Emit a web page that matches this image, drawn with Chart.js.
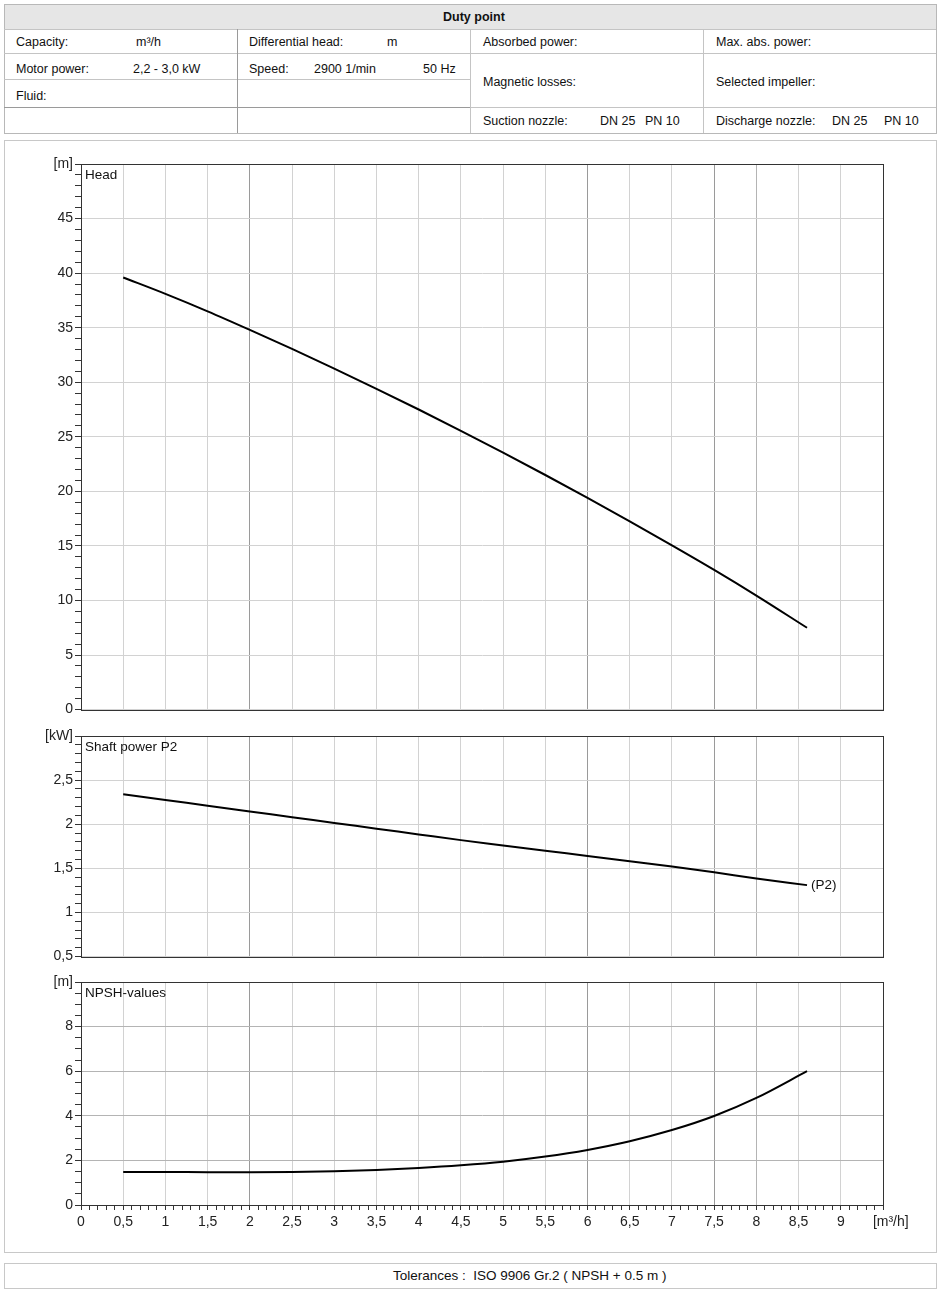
<!DOCTYPE html>
<html><head><meta charset="utf-8">
<script src="https://cdn.jsdelivr.net/npm/chart.js@4/dist/chart.umd.min.js"></script>
<style>
body{margin:0;background:#fff;font-family:"Liberation Sans",Arial,sans-serif;font-size:12.5px;color:#111}
#page{position:relative;width:940px;height:1292px;overflow:hidden;background:#fff}
.ln{position:absolute;background:#c4c4c4}
.dk{background:#9a9a9a}
.t{position:absolute;white-space:nowrap;line-height:14px;transform:translateY(-50%)}
canvas{position:absolute;left:0}
</style></head><body><div id="page">

<!-- duty point table -->
<div style="position:absolute;left:4px;top:4px;width:931px;height:128px;border:1px solid #b8b8b8"></div>
<div style="position:absolute;left:5px;top:5px;width:931px;height:24px;background:#e6e6e6"></div>
<div class="ln" style="left:4px;top:29px;width:932px;height:1px"></div>
<div class="ln" style="left:4px;top:53px;width:932px;height:1px"></div>
<div class="ln" style="left:4px;top:79px;width:466px;height:1px"></div>
<div class="ln dk" style="left:4px;top:107px;width:466px;height:1px"></div>
<div class="ln" style="left:470px;top:107px;width:466px;height:1px"></div>
<div class="ln dk" style="left:237px;top:29px;width:1px;height:104px"></div>
<div class="ln" style="left:470px;top:29px;width:1px;height:104px"></div>
<div class="ln" style="left:703px;top:29px;width:1px;height:104px"></div>

<div class="t" style="left:443px;top:17px;font-weight:bold">Duty point</div>
<div class="t" style="left:16px;top:42px">Capacity:</div>
<div class="t" style="left:136px;top:42px">m³/h</div>
<div class="t" style="left:249px;top:42px">Differential head:</div>
<div class="t" style="left:387px;top:42px">m</div>
<div class="t" style="left:483px;top:42px">Absorbed power:</div>
<div class="t" style="left:716px;top:42px">Max. abs. power:</div>
<div class="t" style="left:16px;top:69px">Motor power:</div>
<div class="t" style="left:133px;top:69px">2,2 - 3,0 kW</div>
<div class="t" style="left:249px;top:69px">Speed:</div>
<div class="t" style="left:314px;top:69px">2900 1/min</div>
<div class="t" style="left:423px;top:69px">50 Hz</div>
<div class="t" style="left:483px;top:82px">Magnetic losses:</div>
<div class="t" style="left:716px;top:82px">Selected impeller:</div>
<div class="t" style="left:16px;top:96px">Fluid:</div>
<div class="t" style="left:483px;top:121px">Suction nozzle:</div>
<div class="t" style="left:600px;top:121px">DN 25</div>
<div class="t" style="left:645px;top:121px">PN 10</div>
<div class="t" style="left:716px;top:121px">Discharge nozzle:</div>
<div class="t" style="left:832px;top:121px">DN 25</div>
<div class="t" style="left:884px;top:121px">PN 10</div>

<!-- chart panel -->
<div style="position:absolute;left:4px;top:140px;width:931px;height:1111px;border:1px solid #c8c8c8"></div>
<canvas id="c1" width="940" height="570" style="top:150px"></canvas>
<canvas id="c2" width="940" height="245" style="top:722px"></canvas>
<canvas id="c3" width="940" height="272" style="top:968px"></canvas>

<!-- footer -->
<div style="position:absolute;left:4px;top:1263px;width:931px;height:24px;border:1px solid #c8c8c8"></div>
<div class="t" style="left:393px;top:1276px;font-size:13.5px">Tolerances :&nbsp; ISO 9906 Gr.2 ( NPSH + 0.5 m )</div>

</div>
<script>
// ---- data ----
const flow  = [0.5, 1, 1.5, 2, 2.5, 3, 3.5, 4, 4.5, 5, 5.5, 6, 6.5, 7, 7.5, 8, 8.6];
const head  = [39.6, 38.1, 36.5, 34.8, 33.05, 31.25, 29.4, 27.5, 25.55, 23.55, 21.5, 19.4, 17.25, 15.05, 12.8, 10.45, 7.5];
const power = [2.34, 2.275, 2.21, 2.145, 2.08, 2.015, 1.95, 1.885, 1.82, 1.76, 1.70, 1.64, 1.58, 1.52, 1.455, 1.385, 1.31];
const npsh  = [1.48, 1.48, 1.47, 1.47, 1.48, 1.51, 1.57, 1.66, 1.78, 1.94, 2.17, 2.47, 2.86, 3.36, 3.99, 4.80, 6.0];

const xRange = [0, 9.5];
const xUnitLabel = '\u00a0\u00a0\u00a0\u00a0[m³/h]';
const headRange = [0, 50],  headUnit = '[m]',  headMajor = 5;
const powerRange = [0.5, 3], powerUnit = '[kW]', powerMajor = 0.5;
const npshRange = [0, 10],  npshUnit = '[m]',  npshMajor = 2;
const titles = ['Head', 'Shaft power P2', 'NPSH-values'];
const curveTag = '(P2)';

// ---- helpers ----
const FONT = '"Liberation Sans", Arial, sans-serif';
const fmt = v => String(Math.round(v * 100) / 100).replace('.', ',');
const isMult = (v, m) => Math.abs(v / m - Math.round(v / m)) < 1e-6;
const near = (a, b) => Math.abs(a - b) < 1e-6;

function vGridColor(ctx) {
  const v = ctx.tick ? ctx.tick.value : 0;
  if (!isMult(v, 0.5)) return 'rgba(0,0,0,0)';
  if (near(v, 2) || near(v, 6) || near(v, 7.5)) return '#9a9a9a';
  if (near(v, 8)) return '#b4b4b4';
  return '#d2d2d2';
}

const framePlugin = {
  id: 'frame',
  afterDatasetsDraw(chart, args, opts) {
    const a = chart.chartArea, c = chart.ctx;
    c.save();
    c.strokeStyle = '#333'; c.lineWidth = 1;
    c.strokeRect(Math.round(a.left) + 0.5, Math.round(a.top) + 0.5, Math.round(a.right - a.left), Math.round(a.bottom - a.top));
    c.fillStyle = '#111';
    c.font = '13.5px ' + FONT;
    c.textBaseline = 'middle';
    c.textAlign = 'left';
    c.fillText(opts.title, a.left + 4, a.top + 11);
    if (opts.tag) {
      const pts = chart.getDatasetMeta(0).data;
      const p = pts[pts.length - 1];
      c.fillText(opts.tag, p.x + 4, p.y);
    }
    c.restore();
  }
};

function makeChart(id, values, yr, unit, major, hGrid, title, tag, showX, padBottom) {
  const yLabel = v => near(v, yr[1]) ? unit : (isMult(v, major) ? fmt(v) : '');
  const xOpts = {
    type: 'linear', min: xRange[0], max: xRange[1],
    border: { display: false },
    grid: {
      color: vGridColor, drawTicks: showX, tickColor: '#333',
      tickLength: 5
    }
  };
  if (showX) {
    xOpts.ticks = {
      display: true, stepSize: 0.1, autoSkip: false, maxRotation: 0, minRotation: 0,
      color: '#222', font: { family: FONT, size: 14 }, padding: 4,
      callback: v => near(v, xRange[1]) ? xUnitLabel : (isMult(v, 0.5) ? fmt(v) : '')
    };
    xOpts.afterFit = s => { s.height = 35; };
  } else {
    xOpts.ticks = { display: false, stepSize: 0.5 };
    xOpts.afterFit = s => { s.height = 0; };
  }
  const minor = major === 5 ? 1 : (major === 2 ? 0.5 : 0.1);
  return new Chart(document.getElementById(id), {
    type: 'line',
    data: { datasets: [{
      data: flow.map((x, i) => ({ x, y: values[i] })),
      borderColor: '#000', borderWidth: 2, pointRadius: 0, fill: false,
      cubicInterpolationMode: 'monotone'
    }] },
    options: {
      responsive: false, animation: false, devicePixelRatio: 1,
      layout: { padding: { left: 0, right: 57, top: 14, bottom: padBottom } },
      plugins: { legend: { display: false }, tooltip: { enabled: false }, frame: { title, tag } },
      scales: {
        x: xOpts,
        y: {
          type: 'linear', min: yr[0], max: yr[1],
          border: { display: true, color: '#333' },
          grid: {
            color: c => (c.tick && isMult(c.tick.value, major)) ? hGrid : 'rgba(0,0,0,0)',
            tickColor: '#333', tickLength: 6
          },
          ticks: { stepSize: minor, autoSkip: false, color: '#222', font: { family: FONT, size: 14 }, padding: 2, callback: yLabel },
          afterFit: s => { s.width = 81; }
        }
      }
    },
    plugins: [framePlugin]
  });
}

makeChart('c1', head, headRange, headUnit, headMajor, '#d2d2d2', titles[0], null, false, 9);
makeChart('c2', power, powerRange, powerUnit, powerMajor, '#d2d2d2', titles[1], curveTag, false, 10);
makeChart('c3', npsh, npshRange, npshUnit, npshMajor, '#b4b4b4', titles[2], null, true, 0);
</script>
</body></html>
